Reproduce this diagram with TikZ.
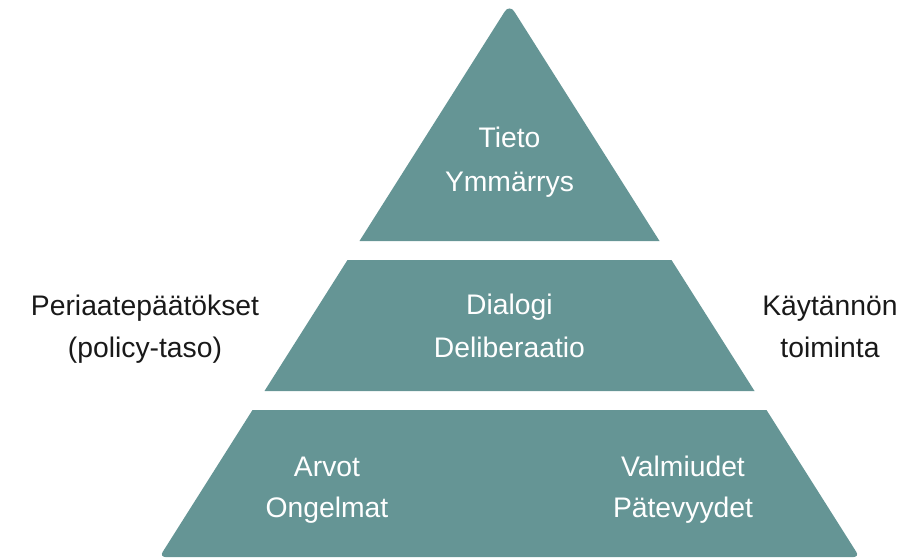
\documentclass[tikz,border=0pt]{standalone}
\usepackage{fontspec}
\setmainfont{Liberation Sans}
\definecolor{pyr}{RGB}{101,149,149}
\definecolor{txt}{RGB}{25,25,25}
\begin{document}
\begin{tikzpicture}[x=1pt,y=-1pt,
  band/.style={fill=pyr,draw=none},
  intext/.style={text=white,font=\fontsize{28.3}{33}\selectfont,anchor=base,inner sep=0pt},
  outtext/.style={text=txt,font=\fontsize{28.3}{33}\selectfont,anchor=base,inner sep=0pt}]
\useasboundingbox (0,0) rectangle (921,559);
% top triangle
\fill[band] (359.5,241) [rounded corners=9] -- (509.5,4) [sharp corners] -- (659.5,241) -- cycle;
% middle trapezoid
\fill[band] (347.5,260) -- (671.5,260) -- (754.5,391) -- (264.5,391) -- cycle;
% bottom trapezoid
\fill[band] (252.5,410) -- (766.5,410) [rounded corners=6] -- (859.5,557) -- (159.5,557) [sharp corners] -- cycle;
% texts inside
\node[intext] (tieto) at (509.5,148) {Tieto};
\node[intext] (ymm) at (509.5,191) {Ymmärrys};
\node[intext] (dial) at (509.5,314) {Dialogi};
\node[intext] (delib) at (509.5,357) {Deliberaatio};
\node[intext] (arvot) at (327,476) {Arvot};
\node[intext] (ongel) at (327,517) {Ongelmat};
\node[intext] (valm) at (683,476) {Valmiudet};
\node[intext] (patev) at (683,517) {Pätevyydet};
% texts outside
\node[outtext] (peri) at (145,315) {Periaatepäätökset};
\node[outtext] (policy) at (145,357) {(policy-taso)};
\node[outtext] (kayt) at (830,315) {Käytännön};
\node[outtext] (toim) at (830,357) {toiminta};
\end{tikzpicture}
\end{document}
